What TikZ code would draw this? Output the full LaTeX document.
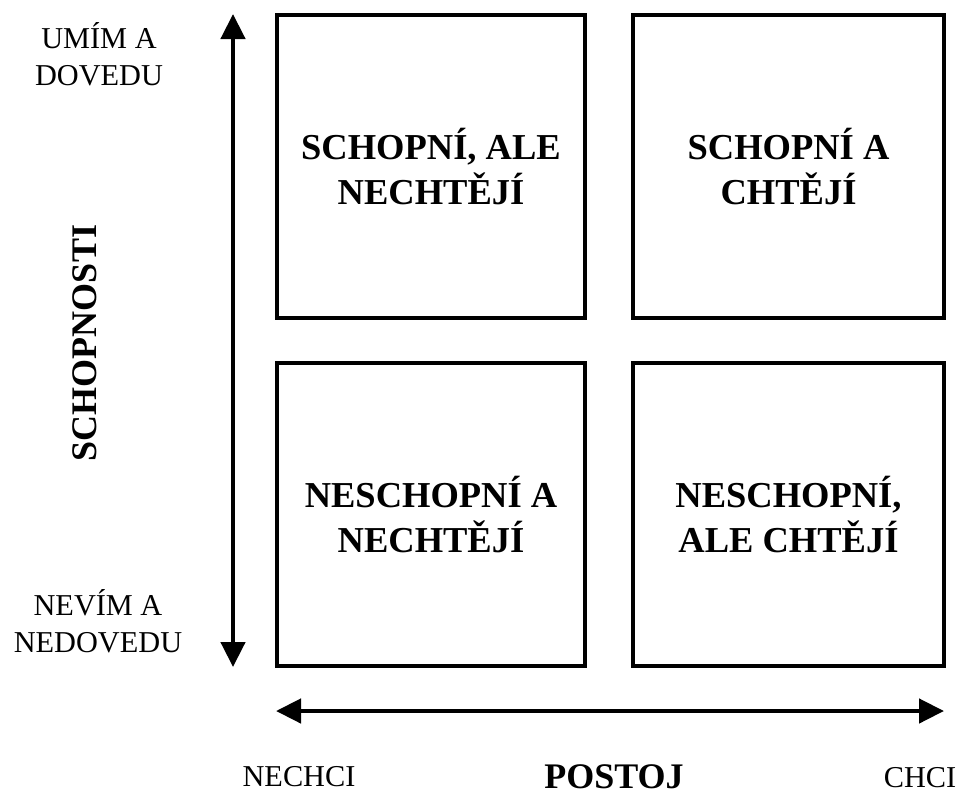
\documentclass[tikz,border=0pt]{standalone}
\usepackage{fontspec}
\setmainfont{Liberation Serif}
\usetikzlibrary{arrows.meta}
\begin{document}
\begin{tikzpicture}[x=1pt,y=-1pt,
  quad/.style={draw=black,line width=4pt,inner sep=0pt,minimum height=303pt,align=center,
    font=\fontsize{36.5}{45}\selectfont\bfseries},
  axis2/.style={line width=4.5pt,{Triangle[length=25pt,width=24pt]}-{Triangle[length=25pt,width=24pt]}},
  small/.style={align=center,inner sep=0pt,font=\fontsize{30.3}{37.5}\selectfont},
  big/.style={inner sep=0pt,font=\fontsize{36}{43}\selectfont\bfseries}]
\useasboundingbox (0,0) rectangle (960,795);
\node[quad,minimum width=308pt] (tl) at (431,166.5) {SCHOPNÍ, ALE\\NECHTĚJÍ};
\node[quad,minimum width=311pt] (tr) at (788.5,166.5) {SCHOPNÍ A\\CHTĚJÍ};
\node[quad,minimum width=308pt] (bl) at (431,514.5) {NESCHOPNÍ A\\NECHTĚJÍ};
\node[quad,minimum width=311pt] (br) at (788.5,514.5) {NESCHOPNÍ,\\ALE CHTĚJÍ};
\coordinate (vtop) at (233,14);
\coordinate (vbot) at (233,667);
\coordinate (hl) at (276,711);
\coordinate (hr) at (944,711);
\draw[axis2] (vbot) -- (vtop);
\draw[axis2] (hl) -- (hr);
\node[small] (umim) at (99,54) {UMÍM A\\DOVEDU};
\node[small] (nevim) at (98,621) {NEVÍM A\\NEDOVEDU};
\node[big,rotate=90] (schop) at (85,343) {SCHOPNOSTI};
\node[small] (nechci) at (299,777) {NECHCI};
\node[big] (postoj) at (614,777) {POSTOJ};
\node[small] (chci) at (920,778) {CHCI};
\end{tikzpicture}
\end{document}
